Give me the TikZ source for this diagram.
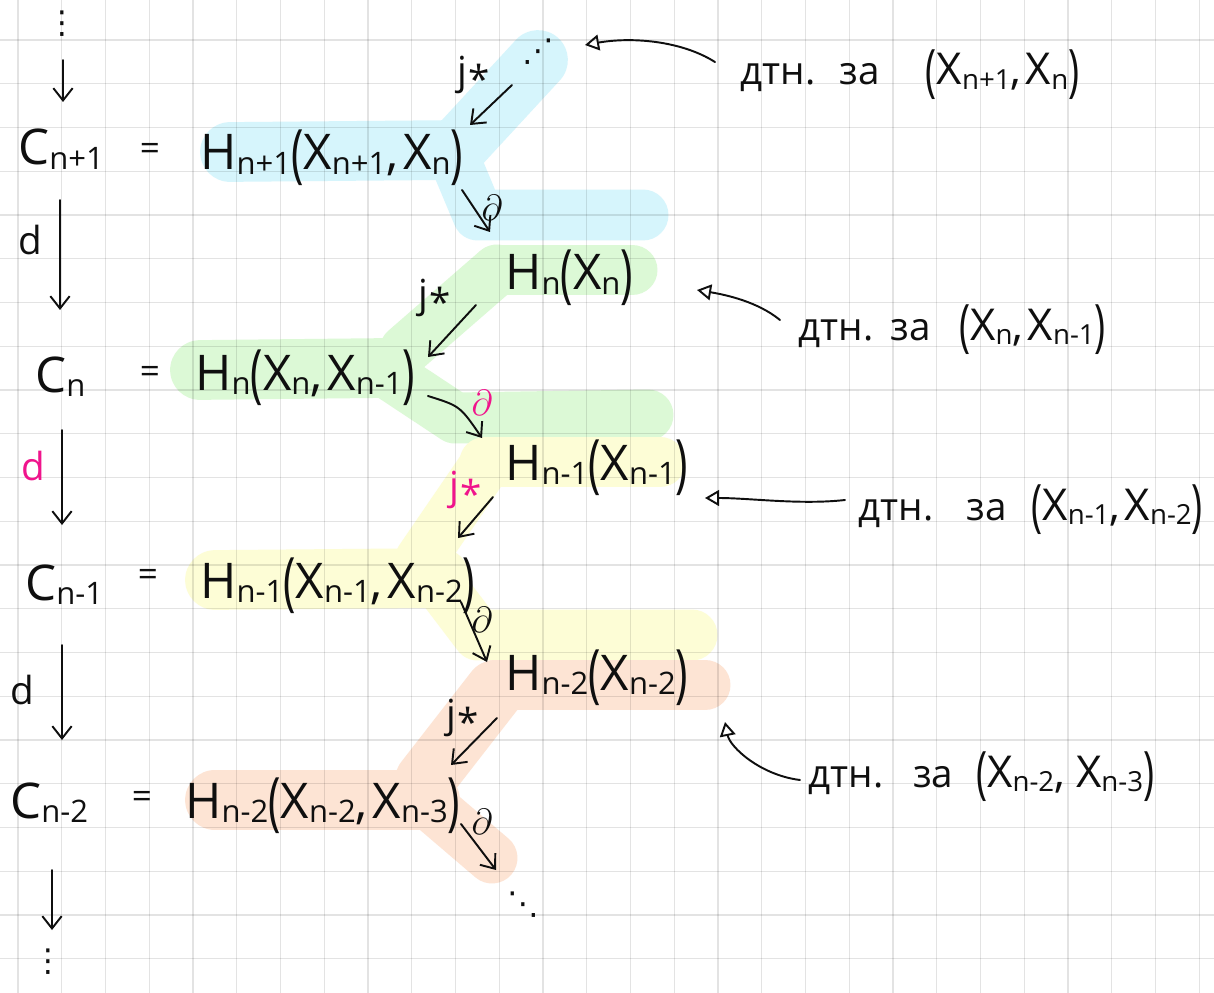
\documentclass[tikz,border=0pt]{standalone}
\usepackage{fontspec}
\setmainfont{Open Sans}
\newfontfamily\symf{DejaVu Sans}
\usepackage{graphicx}
\usetikzlibrary{arrows.meta}
\definecolor{hlblue}{RGB}{214,245,252}
\definecolor{hlgreen}{RGB}{220,249,214}
\definecolor{hlyellow}{RGB}{253,253,214}
\definecolor{hlorange}{RGB}{253,228,212}
\definecolor{ink}{RGB}{15,15,15}
\definecolor{hot}{RGB}{240,20,140}
\newcommand{\Lp}{\raisebox{-0.12em}{\scalebox{0.85}[1.3]{(}}}
\newcommand{\Rp}{\raisebox{-0.12em}{\scalebox{0.85}[1.3]{)}}}
\newcommand{\Sub}[1]{\raisebox{-0.1em}{\scalebox{0.63}{#1}}}
\newcommand{\Cm}{,\kern0.1em}
\newcommand{\cyrsz}{\fontsize{22}{26}\selectfont}
\newcommand{\jstar}{j\kern0.03em\raisebox{-0.22em}{*}}
\begin{document}
\begin{tikzpicture}[x=0.02cm,y=-0.02cm,
  every node/.style={inner sep=0pt, text=ink, font=\fontsize{28}{34}\selectfont},
  formula/.style={anchor=base west},
  eqsign/.style={font=\fontsize{20}{24}\selectfont},
  annot/.style={anchor=base west, font=\fontsize{25}{30}\selectfont},
  maplbl/.style={font=\fontsize{22}{26}\selectfont},
  dotsn/.style={font=\symf\fontsize{18}{18}\selectfont},
  hotlbl/.style={text=hot},
  arr/.style={-{Straight Barb[length=7pt,width=11pt]}, draw=ink, line width=1.1pt, line cap=round},
  ann/.style={-{Triangle[open,length=8pt,width=9pt,line width=1.1pt]}, draw=ink, line width=1.1pt, line cap=round},
  gridline/.style={draw=black, draw opacity=0.11, line width=0.8pt},
  hlmain/.style={line width=34pt, line cap=round, line join=round},
  hlbr/.style={line width=29pt, line cap=round, line join=round}]
\useasboundingbox (0,0) rectangle (1214,993);
\fill[white] (0,0) rectangle (1214,993);
% highlights
\draw[hlmain, hlblue] (230,152) -- (455,150);
\draw[hlmain, hlblue] (455,150) -- (538,60);
\draw[hlbr, hlblue] (455,160) -- (478,215) -- (643,215);
\draw[hlbr, hlgreen] (497,270) -- (632,270);
\draw[hlbr, hlgreen] (497,270) -- (405,350);
\draw[hlmain, hlgreen] (200,370) -- (385,368);
\draw[hlbr, hlgreen] (390,375) -- (455,418) -- (648,415);
\draw[hlbr, hlyellow] (485,462) -- (660,462);
\draw[hlbr, hlyellow] (485,465) -- (420,560);
\draw[hlmain, hlyellow] (215,580) -- (440,578);
\draw[hlbr, hlyellow] (440,585) -- (478,635) -- (692,635);
\draw[hlbr, hlorange] (495,685) -- (705,685);
\draw[hlmain, hlorange] (495,690) -- (425,780);
\draw[hlmain, hlorange] (215,800) -- (430,800);
\draw[hlbr, hlorange] (430,805) -- (492,858);
% grid
\foreach \k in {0,...,27} \draw[gridline] ({18+43.75*\k},0) -- ({18+43.75*\k},993);
\foreach \k in {0,...,21} \draw[gridline] (0,{40+43.75*\k}) -- (1214,{40+43.75*\k});
% left column
\node[dotsn] (vtop) at (62,24) {⋮};
\node[formula] (Cnp1) at (18,165) {C\Sub{n+1}};
\node[eqsign] (eq1) at (150,152) {=};
\node[formula] (Hnp1) at (200,170) {H\Sub{n+1}\Lp X\Sub{n+1}\Cm X\Sub{n}\Rp};
\node[formula] (Cn) at (35,392) {C\Sub{n}};
\node[eqsign] (eq2) at (150,375) {=};
\node[formula] (Hn1) at (195,390) {H\Sub{n}\Lp X\Sub{n}\Cm X\Sub{n-1}\Rp};
\node[formula] (Cm1) at (25,600) {C\Sub{n-1}};
\node[eqsign] (eq3) at (148,578) {=};
\node[formula] (Hm2) at (200,598) {H\Sub{n-1}\Lp X\Sub{n-1}\Cm X\Sub{n-2}\Rp};
\node[formula] (Cm2) at (10,818) {C\Sub{n-2}};
\node[eqsign] (eq4) at (142,800) {=};
\node[formula] (Hp2) at (185,818) {H\Sub{n-2}\Lp X\Sub{n-2}\Cm X\Sub{n-3}\Rp};
\node[dotsn] (vbot) at (48,962) {⋮};
% d labels
\node[maplbl] (d1) at (30,240) {d};
\node[maplbl, hotlbl] (d2) at (33,466) {d};
\node[maplbl] (d3) at (22,690) {d};
% right column
\node[dotsn] (dtop) at (538,52) {⋰};
\node[formula] (Hn0) at (505,290) {H\Sub{n}\Lp X\Sub{n}\Rp};
\node[formula] (Hm1) at (505,480) {H\Sub{n-1}\Lp X\Sub{n-1}\Rp};
\node[formula] (Hp1) at (505,690) {H\Sub{n-2}\Lp X\Sub{n-2}\Rp};
\node[dotsn] (dbot) at (523,905) {⋱};
% map labels
\node[maplbl] (j1) at (474,75) {\jstar};
\node[maplbl] (p1) at (492,208) {$\partial$};
\node[maplbl] (j2) at (435,298) {\jstar};
\node[maplbl, hotlbl] (p2) at (482,403) {$\partial$};
\node[maplbl, hotlbl] (j3) at (466,490) {\jstar};
\node[maplbl] (p3) at (482,620) {$\partial$};
\node[maplbl] (j4) at (463,718) {\jstar};
\node[maplbl] (p4) at (482,822) {$\partial$};
% annotations
\node[annot] (L1) at (740,85) {{\cyrsz дтн.\hspace{14pt}за}\hspace{26pt}\Lp X\Sub{n+1}\Cm X\Sub{n}\Rp};
\node[annot] (L2) at (798,340) {{\cyrsz дтн.\hspace{10pt}за}\hspace{16pt}\Lp X\Sub{n}\Cm X\Sub{n-1}\Rp};
\node[annot] (L3) at (858,520) {{\cyrsz дтн.\hspace{19pt}за}\hspace{14pt}\Lp X\Sub{n-1}\Cm X\Sub{n-2}\Rp};
\node[annot] (L4) at (808,787) {{\cyrsz дтн.\hspace{17pt}за}\hspace{13pt}\Lp X\Sub{n-2}\Cm\kern0.15em X\Sub{n-3}\Rp};
% vertical d arrows
\draw[arr] ([shift={(1,36)}]vtop.center) -- ([shift={(45,-63)}]Cnp1.base west);
\draw[arr] ([shift={(42,35)}]Cnp1.base west) -- ([shift={(25,-82)}]Cn.base west);
\draw[arr] ([shift={(27,38)}]Cn.base west) -- ([shift={(37,-75)}]Cm1.base west);
\draw[arr] ([shift={(37,45)}]Cm1.base west) -- ([shift={(52,-78)}]Cm2.base west);
\draw[arr] ([shift={(42,52)}]Cm2.base west) -- ([shift={(4,-32)}]vbot.center);
% horizontal maps
\draw[arr] ([shift={(-26,33)}]dtop.center) -- ([shift={(270,-45)}]Hnp1.base west);
\draw[arr] ([shift={(262,20)}]Hnp1.base west) -- ([shift={(-15,-58)}]Hn0.base west);
\draw[arr] ([shift={(-29,15)}]Hn0.base west) -- ([shift={(233,-33)}]Hn1.base west);
\draw[arr] ([shift={(233,6)}]Hn1.base west) .. controls ([shift={(265,16)}]Hn1.base west) .. ([shift={(-23,-42)}]Hm1.base west);
\draw[arr] ([shift={(-12,17)}]Hm1.base west) -- ([shift={(258,-60)}]Hm2.base west);
\draw[arr] ([shift={(261,4)}]Hm2.base west) -- ([shift={(-18,-28)}]Hp1.base west);
\draw[arr] ([shift={(-8,28)}]Hp1.base west) -- ([shift={(266,-53)}]Hp2.base west);
\draw[arr] ([shift={(276,6)}]Hp2.base west) -- ([shift={(-27,-35)}]dbot.center);
% annotation arrows
\draw[ann] ([shift={(-25,-23)}]L1.base west) .. controls +(-35,-22) and +(45,-8) .. ([shift={(47,-7)}]dtop.center);
\draw[ann] ([shift={(-18,-20)}]L2.base west) .. controls +(-22,-18) and +(30,5) .. ([shift={(192,0)}]Hn0.base west);
\draw[ann] ([shift={(-13,-20)}]L3.base west) .. controls +(-45,5) and +(45,0) .. ([shift={(200,18)}]Hm1.base west);
\draw[ann] ([shift={(-8,-7)}]L4.base west) .. controls +(-40,-5) and +(5,25) .. ([shift={(220,32)}]Hp1.base west);
\end{tikzpicture}
\end{document}
